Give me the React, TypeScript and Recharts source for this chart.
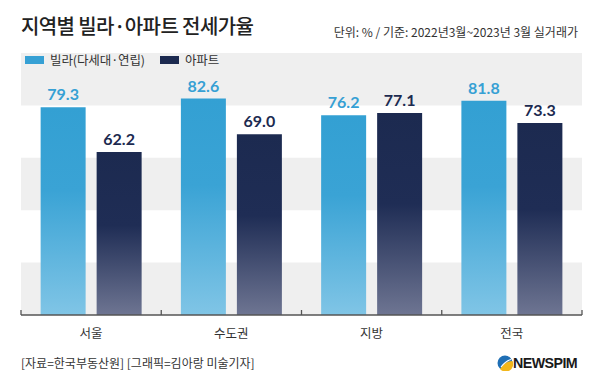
import { BarChart, Bar, XAxis, YAxis, ReferenceArea, LabelList } from "recharts";

// 지역별 빌라·아파트 전세가율 (단위 %)
const regions = ["서울", "수도권", "지방", "전국"];
const villaRates = [79.3, 82.6, 76.2, 81.8];
const aptRates = [62.2, 69.0, 77.1, 73.3];
const seriesNames = ["빌라(다세대·연립)", "아파트"];
const seriesColors = ["#36a0d4", "#1c2a50"];
const yTicks = [0, 20, 40, 60, 80, 100];
const stripeBands = [
  [0, 20],
  [40, 60],
  [80, 100],
];

const data = regions.map((region, i) => ({
  region,
  villa: villaRates[i],
  apt: aptRates[i],
}));

const CHART_W = 600;
const CHART_H = 390;
const MARGIN = { top: 53, right: 18, left: 21, bottom: 45 };
const band = (CHART_W - MARGIN.left - MARGIN.right) / regions.length;

const KR = '"Noto Sans CJK KR", "Noto Sans", sans-serif';

function RegionTick(props: any) {
  const { x, y, payload, index } = props;
  const left = x - band / 2;
  return (
    <g>
      <line x1={left} x2={left} y1={y - 5} y2={y} stroke="#555" strokeWidth={1.3} />
      {index === regions.length - 1 && (
        <line x1={x + band / 2} x2={x + band / 2} y1={y - 5} y2={y} stroke="#555" strokeWidth={1.3} />
      )}
      <text x={x} y={y + 23} textAnchor="middle" fontSize={12.5} fill="#333" fontFamily={KR}>
        {payload.value}
      </text>
    </g>
  );
}

function NewspimLogo() {
  return (
    <div style={{ position: "absolute", left: 497, top: 354, display: "flex", alignItems: "center" }}>
      <svg width={16} height={16} viewBox="0 0 16 16">
        <circle cx={8} cy={8} r={7.5} fill="#1f6fb5" />
        <path d="M3 14 C6 9, 10 6, 15.5 6 A7.5 7.5 0 0 1 3 14 Z" fill="#f2b71b" />
        <path d="M4 12 C7 8, 10 5.5, 14 4.5" stroke="#fff" strokeWidth={1.2} fill="none" />
      </svg>
      <span
        style={{
          fontFamily: '"Liberation Sans", Arial, sans-serif',
          fontWeight: 700,
          fontSize: 15,
          color: "#1a1a1a",
          letterSpacing: -0.6,
          transform: "scaleX(0.95)",
          transformOrigin: "left center",
          display: "inline-block",
        }}
      >
        NEWSPIM
      </span>
    </div>
  );
}

export default function App() {
  return (
    <div
      style={{
        position: "absolute",
        left: 0,
        top: 0,
        width: CHART_W,
        height: CHART_H,
        background: "#fff",
        fontFamily: KR,
        overflow: "hidden",
      }}
    >
      <BarChart width={CHART_W} height={CHART_H} data={data} margin={MARGIN} barCategoryGap="14%" barGap={11}>
        <defs>
          <linearGradient id="gradVilla" x1="0" y1="0" x2="0" y2="1">
            <stop offset="0%" stopColor="#33a0d3" />
            <stop offset="40%" stopColor="#3aa3d5" />
            <stop offset="100%" stopColor="#80c5e6" />
          </linearGradient>
          <linearGradient id="gradApt" x1="0" y1="0" x2="0" y2="1">
            <stop offset="0%" stopColor="#1c2a50" />
            <stop offset="45%" stopColor="#1f2d55" />
            <stop offset="100%" stopColor="#6e7592" />
          </linearGradient>
        </defs>
        {stripeBands.map(([y1, y2]) => (
          <ReferenceArea key={y1} y1={y1} y2={y2} fill="#efefef" fillOpacity={1} stroke="none" ifOverflow="visible" />
        ))}
        <XAxis
          dataKey="region"
          interval={0}
          tickLine={false}
          tickSize={0}
          tickMargin={0}
          axisLine={{ stroke: "#555", strokeWidth: 1.5 }}
          tick={<RegionTick />}
        />
        <YAxis hide domain={[0, 100]} ticks={yTicks} />
        <Bar dataKey="villa" name={seriesNames[0]} fill="url(#gradVilla)" isAnimationActive={false}>
          <LabelList
            dataKey="villa"
            position="top"
            offset={7}
            fill={seriesColors[0]}
            fontSize={16}
            fontWeight={700}
            fontFamily="Lato, sans-serif"
            formatter={(v: any) => Number(v).toFixed(1)}
          />
        </Bar>
        <Bar dataKey="apt" name={seriesNames[1]} fill="url(#gradApt)" isAnimationActive={false}>
          <LabelList
            dataKey="apt"
            position="top"
            offset={7}
            fill={seriesColors[1]}
            fontSize={16}
            fontWeight={700}
            fontFamily="Lato, sans-serif"
            formatter={(v: any) => Number(v).toFixed(1)}
          />
        </Bar>
      </BarChart>

      {/* 제목 */}
      <div
        style={{
          position: "absolute",
          left: 21,
          top: 15,
          fontSize: 20,
          lineHeight: "22px",
          fontWeight: 500,
          color: "#222",
          letterSpacing: -0.6,
          whiteSpace: "nowrap",
        }}
      >
        지역별 빌라·아파트 전세가율
      </div>
      <div
        style={{
          position: "absolute",
          right: 22,
          top: 24,
          fontSize: 12,
          lineHeight: "16px",
          color: "#333",
          letterSpacing: 0,
          whiteSpace: "nowrap",
        }}
      >
        단위: % / 기준: 2022년3월~2023년 3월 실거래가
      </div>

      {/* 범례 */}
      <div style={{ position: "absolute", left: 25, top: 52, display: "flex", alignItems: "center", fontSize: 12.5, color: "#333" }}>
        {seriesNames.map((name, i) => (
          <div key={name} style={{ display: "flex", alignItems: "center", marginRight: 15 }}>
            <span style={{ display: "inline-block", width: 19, height: 8, background: seriesColors[i], marginRight: 6 }} />
            <span style={{ lineHeight: "16px", letterSpacing: -0.1 }}>{name}</span>
          </div>
        ))}
      </div>

      {/* 출처 */}
      <div
        style={{
          position: "absolute",
          left: 21,
          top: 355,
          fontSize: 12,
          lineHeight: "16px",
          color: "#333",
          letterSpacing: 0,
          whiteSpace: "nowrap",
        }}
      >
        [자료=한국부동산원] [그래픽=김아랑 미술기자]
      </div>
      <NewspimLogo />
    </div>
  );
}
